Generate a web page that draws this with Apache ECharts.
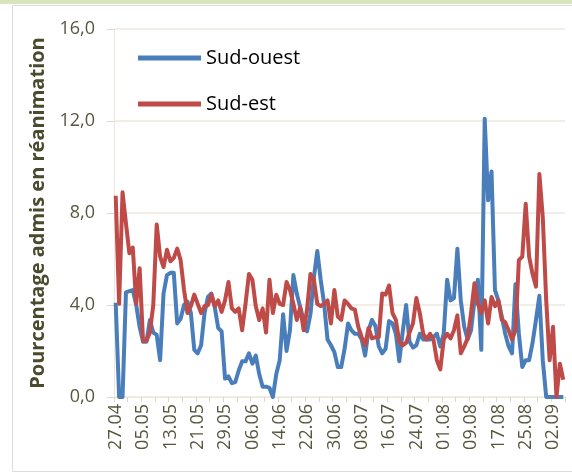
<!DOCTYPE html>
<html>
<head>
<meta charset="utf-8">
<script src="https://cdn.jsdelivr.net/npm/echarts@6/dist/echarts.min.js"></script>
<style>
html,body{margin:0;padding:0;background:#fff;}
#chart{width:572px;height:474px;}
</style>
</head>
<body>
<div id="chart"></div>
<script>
const categories = [
"27.04","28.04","29.04","30.04",
"01.05","02.05","03.05","04.05","05.05","06.05","07.05","08.05","09.05","10.05","11.05","12.05","13.05","14.05","15.05","16.05","17.05","18.05","19.05","20.05","21.05","22.05","23.05","24.05","25.05","26.05","27.05","28.05","29.05","30.05","31.05",
"01.06","02.06","03.06","04.06","05.06","06.06","07.06","08.06","09.06","10.06","11.06","12.06","13.06","14.06","15.06","16.06","17.06","18.06","19.06","20.06","21.06","22.06","23.06","24.06","25.06","26.06","27.06","28.06","29.06","30.06",
"01.07","02.07","03.07","04.07","05.07","06.07","07.07","08.07","09.07","10.07","11.07","12.07","13.07","14.07","15.07","16.07","17.07","18.07","19.07","20.07","21.07","22.07","23.07","24.07","25.07","26.07","27.07","28.07","29.07","30.07","31.07",
"01.08","02.08","03.08","04.08","05.08","06.08","07.08","08.08","09.08","10.08","11.08","12.08","13.08","14.08","15.08","16.08","17.08","18.08","19.08","20.08","21.08","22.08","23.08","24.08","25.08","26.08","27.08","28.08","29.08","30.08","31.08",
"01.09","02.09","03.09","04.09","05.09"
];

const seriesNames = ["Sud-ouest", "Sud-est"];

const sudOuest = [
4.1,0,0,4.55,4.6,4.65,4.0,3.05,2.4,2.4,
3.35,2.8,2.7,1.6,4.5,5.3,5.4,5.4,3.2,3.4,
4.0,4.15,3.65,2.05,1.9,2.25,3.65,4.35,4.5,3.9,
3.0,2.85,0.8,0.9,0.6,0.65,1.15,1.55,1.55,1.9,
1.45,1.8,1.0,0.45,0.45,0.4,0,1.0,1.6,3.6,
2.0,2.9,5.3,4.5,3.9,3.35,2.85,3.6,5.2,6.35,
5.1,4.05,2.5,2.25,1.95,1.3,1.3,2.1,3.2,2.9,
2.75,2.75,2.5,1.8,2.9,3.35,3.1,2.2,1.9,2.1,
3.3,3.2,2.75,1.55,2.85,4.0,2.4,2.15,2.25,2.75,
2.5,2.5,2.5,2.6,2.75,2.2,2.75,5.1,4.2,4.3,
6.45,4.2,3.05,2.5,2.9,4.2,5.1,2.05,12.1,8.55,
9.8,4.65,4.2,3.5,2.75,2.2,1.9,4.9,2.75,1.3,
1.6,1.6,2.35,3.35,4.4,1.6,0,0,0,0,
0,0
];

const sudEst = [
8.75,4.05,8.9,7.55,6.25,6.5,4.05,5.6,2.45,2.45,
2.8,4.0,7.5,6.1,5.65,6.4,5.9,6.05,6.45,5.95,
4.65,3.65,3.95,4.45,4.05,3.65,3.95,4.0,4.45,3.95,
4.2,3.7,4.2,5.0,3.85,3.7,3.85,2.9,4.05,5.35,
5.1,3.95,3.35,3.85,2.8,5.1,3.65,4.45,4.05,4.0,
5.0,4.65,4.05,3.35,3.9,2.9,3.8,5.35,5.1,4.05,
3.95,4.05,4.2,3.2,4.65,3.5,3.35,4.2,4.05,3.85,
3.8,3.05,2.6,2.25,3.0,2.55,2.6,2.6,4.5,4.45,
4.85,3.65,3.35,2.4,2.25,2.35,2.8,3.2,4.3,3.65,
2.75,2.5,2.75,2.5,1.6,1.2,2.5,2.75,2.55,2.9,
3.55,1.9,2.2,2.55,3.65,4.95,4.05,3.65,4.2,3.2,
4.35,3.95,4.2,3.35,3.25,2.9,2.5,2.9,5.95,6.1,
8.4,6.1,5.35,4.8,9.7,7.8,4.2,1.6,3.05,0,
1.45,0.75
];

const yTicks = [0, 4, 8, 12, 16];
const colors = ["#4a7ebb", "#be4b48"];

const chart = echarts.init(document.getElementById('chart'), null, {renderer: 'canvas'});
const font = "'Open Sans', 'Noto Sans', sans-serif";
const labelColor = '#57573f';
const gridColor = '#ece9dc';

chart.setOption({
  animation: false,
  backgroundColor: '#ffffff',
  graphic: [
    {type: 'rect', shape: {x: 0, y: 0, width: 572, height: 4}, style: {fill: '#d8e4bc'}, silent: true},
    {type: 'rect', shape: {x: 12.5, y: 5.5, width: 570, height: 466}, style: {fill: 'none', stroke: '#dcdcdc', lineWidth: 1}, silent: true}
  ],
  grid: {left: 114, right: 7, top: 29, bottom: 77, containLabel: false},
  legend: {
    orient: 'vertical',
    left: 138,
    top: 47,
    padding: 0,
    itemWidth: 63,
    itemHeight: 5,
    itemGap: 24,
    icon: 'rect',
    data: seriesNames,
    textStyle: {fontFamily: font, fontSize: 20, color: '#000', lineHeight: 22, padding: [0, 0, 0, 0]}
  },
  xAxis: {
    type: 'category',
    data: categories,
    boundaryGap: true,
    axisLine: {show: true, lineStyle: {color: gridColor, width: 1}},
    axisTick: {show: true, interval: 3, length: 5, lineStyle: {color: '#dcd8c4'}},
    axisLabel: {interval: 7, rotate: 90, margin: 7, fontFamily: font, fontSize: 18, color: labelColor}
  },
  yAxis: {
    type: 'value',
    min: yTicks[0],
    max: yTicks[yTicks.length - 1],
    interval: 4,
    name: 'Pourcentage admis en réanimation',
    nameLocation: 'middle',
    nameGap: 52,
    nameTextStyle: {fontFamily: font, fontSize: 20, fontWeight: 'bold', color: '#4a4a2e'},
    axisLine: {show: true, lineStyle: {color: gridColor}},
    axisTick: {show: true, length: 7, lineStyle: {color: '#dcd8c4'}},
    splitLine: {show: true, lineStyle: {color: gridColor, width: 1.5}},
    axisLabel: {
      margin: 19,
      fontFamily: font, fontSize: 18, color: labelColor,
      formatter: v => v.toFixed(1).replace('.', ',')
    }
  },
  series: [
    {name: seriesNames[0], type: 'line', data: sudOuest, symbol: 'none', color: colors[0], lineStyle: {width: 4, color: colors[0], join: 'round'}},
    {name: seriesNames[1], type: 'line', data: sudEst, symbol: 'none', color: colors[1], lineStyle: {width: 4, color: colors[1], join: 'round'}}
  ]
});
</script>
</body>
</html>
